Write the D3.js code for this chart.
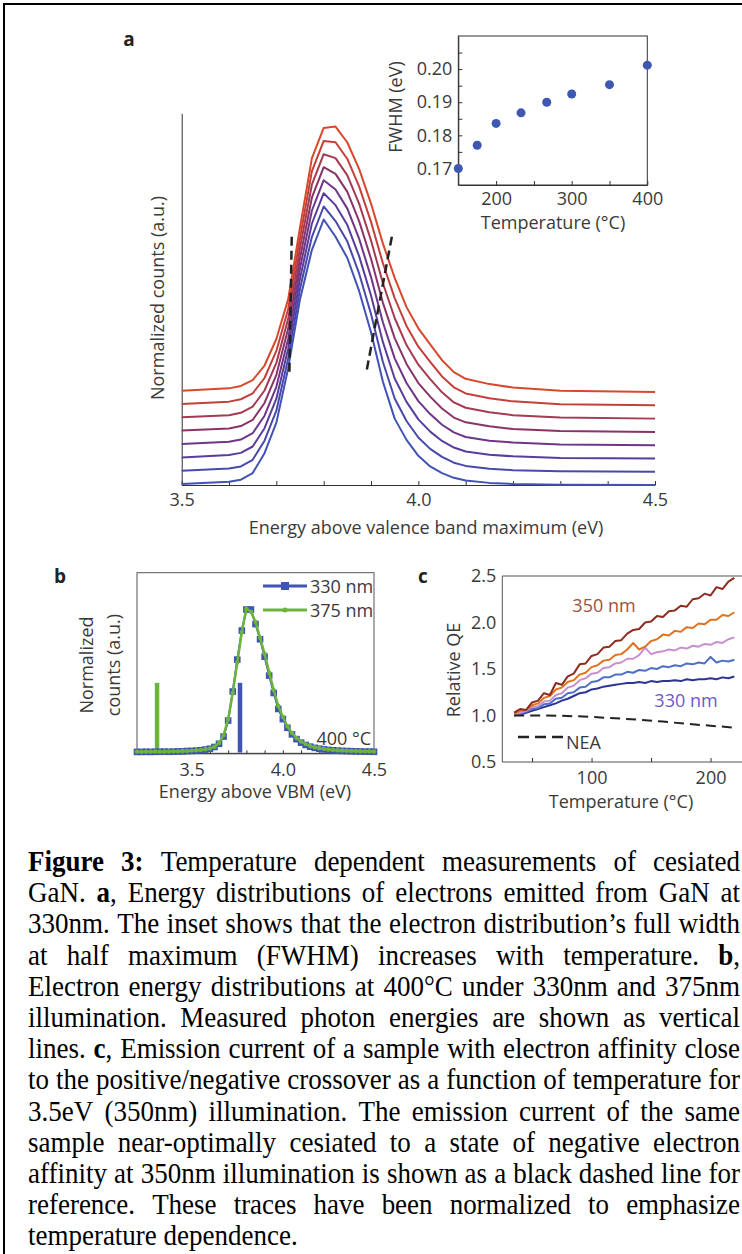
<!DOCTYPE html>
<html>
<head>
<meta charset="utf-8">
<script src="https://cdn.jsdelivr.net/npm/d3@7"></script>
<style>
  body { margin: 0; background: #fff; }
  svg text { font-family: "Open Sans", sans-serif; fill: #3a3a3a; }
  .axis path, .axis line { stroke: #333; }
  .axis text { font-family: "Open Sans", sans-serif; fill: #3a3a3a; }
  .cap text { font-family: "Liberation Serif", serif; fill: #000; }
</style>
</head>
<body>
<script>
  // ---- panel a: energy distributions at 330 nm, one curve per temperature
  const energyA = [3.5, 3.6, 3.625, 3.65, 3.675, 3.7, 3.725, 3.75, 3.775, 3.8, 3.825, 3.85, 3.875,
    3.9, 3.925, 3.95, 3.975, 4.0, 4.025, 4.05, 4.075, 4.1, 4.15, 4.2, 4.3, 4.5];
  const counts150 = [0.004, 0.012, 0.020, 0.045, 0.120, 0.235, 0.440, 0.700, 0.885, 1.000, 0.935, 0.855, 0.730,
    0.575, 0.390, 0.250, 0.170, 0.110, 0.070, 0.045, 0.027, 0.017, 0.008, 0.004, 0.001, 0];
  const counts175 = [0.004, 0.012, 0.020, 0.045, 0.117, 0.230, 0.427, 0.689, 0.884, 0.999, 0.944, 0.867, 0.746,
    0.594, 0.414, 0.276, 0.191, 0.129, 0.086, 0.056, 0.034, 0.022, 0.011, 0.006, 0.002, 0];
  const counts200 = [0.004, 0.013, 0.021, 0.045, 0.114, 0.225, 0.414, 0.677, 0.884, 0.999, 0.954, 0.879, 0.761,
    0.614, 0.439, 0.301, 0.213, 0.147, 0.101, 0.066, 0.041, 0.026, 0.014, 0.008, 0.002, 0];
  const counts233 = [0.004, 0.013, 0.021, 0.045, 0.111, 0.220, 0.401, 0.666, 0.883, 0.998, 0.963, 0.891, 0.777,
    0.633, 0.463, 0.327, 0.234, 0.166, 0.117, 0.077, 0.048, 0.031, 0.017, 0.010, 0.003, 0];
  const counts267 = [0.005, 0.013, 0.022, 0.045, 0.109, 0.215, 0.389, 0.654, 0.882, 0.997, 0.972, 0.904, 0.793,
    0.652, 0.487, 0.353, 0.256, 0.184, 0.133, 0.088, 0.054, 0.036, 0.021, 0.011, 0.003, 0];
  const counts300 = [0.005, 0.013, 0.022, 0.045, 0.106, 0.210, 0.376, 0.643, 0.881, 0.996, 0.981, 0.916, 0.809,
    0.671, 0.511, 0.379, 0.277, 0.203, 0.149, 0.099, 0.061, 0.041, 0.024, 0.013, 0.004, 0];
  const counts350 = [0.005, 0.014, 0.023, 0.045, 0.103, 0.205, 0.363, 0.631, 0.881, 0.996, 0.991, 0.928, 0.824,
    0.691, 0.536, 0.404, 0.299, 0.221, 0.164, 0.109, 0.068, 0.045, 0.027, 0.015, 0.004, 0];
  const counts400 = [0.005, 0.014, 0.023, 0.045, 0.100, 0.200, 0.350, 0.620, 0.880, 0.995, 1.000, 0.940, 0.840,
    0.710, 0.560, 0.430, 0.320, 0.240, 0.180, 0.120, 0.075, 0.050, 0.030, 0.017, 0.005, 0];
  const curvesA = [counts150, counts175, counts200, counts233, counts267, counts300, counts350, counts400];
  const curveStep = 0.05; // vertical offset between stacked traces
  const colorsA = ['#4152b6', '#4948ab', '#593d9d', '#6e3588', '#8a3368', '#a53a52', '#c3403a', '#d8482b'];
  const halfMaxLeft = [[3.7325, 0.935], [3.7275, 0.42]];
  const halfMaxRight = [[3.944, 0.935], [3.891, 0.433]];
  const ticksA = [3.5, 3.6, 3.7, 3.8, 3.9, 4.0, 4.1, 4.2, 4.3, 4.4, 4.5];
  const labelsA = [3.5, 4.0, 4.5];

  // inset: FWHM vs temperature
  const insetTemp = [150, 175, 200, 233, 267, 300, 350, 400];
  const insetFwhm = [0.170, 0.177, 0.1836, 0.1868, 0.190, 0.1925, 0.1953, 0.2012];
  const insetYTicks = [0.17, 0.175, 0.18, 0.185, 0.19, 0.195, 0.20, 0.205];
  const insetYLabels = [0.17, 0.18, 0.19, 0.20];
  const insetXTicks = [200, 250, 300, 350, 400];
  const insetXLabels = [200, 300, 400];

  // ---- panel b: 400 C distributions at two wavelengths
  const energyB = [3.2, 3.225, 3.25, 3.275, 3.3, 3.325, 3.35, 3.375, 3.4, 3.425, 3.45, 3.475, 3.5, 3.525,
    3.55, 3.575, 3.6, 3.625, 3.65, 3.675, 3.7, 3.725, 3.75, 3.775, 3.8, 3.825, 3.85, 3.875, 3.9, 3.925,
    3.95, 3.975, 4.0, 4.025, 4.05, 4.075, 4.1, 4.125, 4.15, 4.175, 4.2, 4.225, 4.25, 4.275, 4.3, 4.325,
    4.35, 4.375, 4.4, 4.425, 4.45, 4.475, 4.5];
  const counts330 = [0.004, 0.004, 0.005, 0.004, 0.005, 0.005, 0.006, 0.005, 0.006, 0.007, 0.008, 0.010, 0.011, 0.013,
    0.016, 0.020, 0.026, 0.038, 0.060, 0.110, 0.220, 0.420, 0.640, 0.840, 0.985, 0.985, 0.885, 0.780, 0.660, 0.530,
    0.410, 0.300, 0.230, 0.170, 0.125, 0.092, 0.068, 0.052, 0.040, 0.032, 0.026, 0.021, 0.018, 0.015, 0.013, 0.011,
    0.010, 0.009, 0.008, 0.007, 0.006, 0.006, 0.005];
  const counts375 = [0.006, 0.005, 0.006, 0.006, 0.007, 0.006, 0.007, 0.007, 0.008, 0.008, 0.010, 0.011, 0.013, 0.015,
    0.018, 0.022, 0.028, 0.040, 0.065, 0.120, 0.230, 0.410, 0.620, 0.830, 0.990, 0.970, 0.900, 0.790, 0.680, 0.550,
    0.430, 0.320, 0.245, 0.180, 0.135, 0.100, 0.075, 0.058, 0.045, 0.036, 0.030, 0.025, 0.021, 0.018, 0.016, 0.014,
    0.012, 0.011, 0.010, 0.009, 0.008, 0.008, 0.007];
  const photonEnergy = [3.31, 3.765];   // 375 nm, 330 nm
  const photonHeight = 0.48;
  const ticksB = [3.3, 3.4, 3.5, 3.6, 3.7, 3.8, 3.9, 4.0, 4.1, 4.2, 4.3, 4.4, 4.5];
  const labelsB = [3.5, 4.0, 4.5];

  // ---- panel c: relative QE vs temperature
  const tempC = [35, 40, 45, 50, 55, 60, 65, 70, 75, 80, 85, 90, 95, 100, 105, 110, 115, 120, 125, 130,
    135, 140, 145, 150, 155, 160, 165, 170, 175, 180, 185, 190, 195, 200, 205, 210, 215, 220];
  const qe350 = [1.03, 1.07, 1.06, 1.14, 1.16, 1.24, 1.22, 1.35, 1.33, 1.42, 1.45, 1.55, 1.56, 1.64, 1.66, 1.73,
    1.74, 1.80, 1.81, 1.88, 1.92, 1.93, 2.00, 2.01, 2.07, 2.06, 2.12, 2.13, 2.18, 2.17, 2.25, 2.26, 2.31, 2.29,
    2.38, 2.36, 2.44, 2.48];
  const qe345 = [1.02, 1.05, 1.06, 1.11, 1.13, 1.19, 1.21, 1.28, 1.30, 1.36, 1.38, 1.44, 1.46, 1.52, 1.54, 1.59,
    1.60, 1.65, 1.66, 1.71, 1.78, 1.71, 1.74, 1.80, 1.82, 1.87, 1.86, 1.91, 1.90, 1.95, 1.94, 1.99, 1.98, 2.03,
    2.03, 2.08, 2.07, 2.11];
  const qe340 = [1.01, 1.03, 1.05, 1.09, 1.10, 1.15, 1.16, 1.22, 1.24, 1.30, 1.32, 1.38, 1.40, 1.45, 1.46, 1.51,
    1.52, 1.56, 1.57, 1.61, 1.61, 1.65, 1.73, 1.66, 1.68, 1.69, 1.71, 1.70, 1.73, 1.72, 1.75, 1.74, 1.77, 1.76,
    1.79, 1.78, 1.82, 1.84];
  const qe335 = [1.01, 1.02, 1.04, 1.07, 1.08, 1.12, 1.13, 1.18, 1.19, 1.24, 1.25, 1.30, 1.31, 1.36, 1.37, 1.41,
    1.41, 1.44, 1.44, 1.47, 1.46, 1.49, 1.48, 1.51, 1.50, 1.53, 1.52, 1.54, 1.53, 1.56, 1.55, 1.57, 1.56, 1.63,
    1.57, 1.59, 1.58, 1.60];
  const qe330 = [1.00, 1.01, 1.03, 1.05, 1.07, 1.09, 1.11, 1.13, 1.16, 1.18, 1.21, 1.24, 1.25, 1.28, 1.29, 1.31,
    1.32, 1.33, 1.34, 1.35, 1.35, 1.36, 1.35, 1.37, 1.36, 1.37, 1.37, 1.38, 1.37, 1.39, 1.38, 1.39, 1.39, 1.40,
    1.39, 1.41, 1.40, 1.42];
  const seriesC = [qe330, qe335, qe340, qe345, qe350];
  const colorsC = ['#2c3593', '#4e6fc6', '#c990d0', '#e0731f', '#8c2d1f'];
  const neaTemp = [35, 60, 80, 100, 120, 140, 160, 180, 200, 220];
  const neaQE = [1.0, 1.0, 0.995, 0.985, 0.97, 0.955, 0.935, 0.91, 0.89, 0.87];
  const ticksCx = [50, 100, 150, 200];
  const labelsCx = [100, 200];
  const ticksCy = [0.5, 1.0, 1.5, 2.0, 2.5];

  // ---- caption, one entry per printed line (*...* = bold)
  const captionLines = [
    '*Figure* *3:* Temperature dependent measurements of cesiated',
    'GaN. *a*, Energy distributions of electrons emitted from GaN at',
    '330nm. The inset shows that the electron distribution\u2019s full width',
    'at half maximum (FWHM) increases with temperature. *b*,',
    'Electron energy distributions at 400\u00b0C under 330nm and 375nm',
    'illumination. Measured photon energies are shown as vertical',
    'lines. *c*, Emission current of a sample with electron affinity close',
    'to the positive/negative crossover as a function of temperature for',
    '3.5eV (350nm) illumination. The emission current of the same',
    'sample near-optimally cesiated to a state of negative electron',
    'affinity at 350nm illumination is shown as a black dashed line for',
    'reference. These traces have been normalized to emphasize',
    'temperature dependence.'
  ];

  const W = 742, H = 1254;
  const svg = d3.select('body').append('svg')
    .attr('width', W)
    .attr('height', H);

  svg.append('rect').attr('width', W).attr('height', H).attr('fill', '#fff');

  // outer frame (left + top)
  svg.append('path')
    .attr('d', 'M4,1254 V4 H742')
    .attr('fill', 'none')
    .attr('stroke', '#000')
    .attr('stroke-width', 2);

  const fmt1 = d3.format('.1f');
  const isIn = (list) => (d) => list.some(v => Math.abs(v - d) < 1e-9);
  const FS = '18px';

  // ================= panel a =================
  const xA = d3.scaleLinear().domain([3.5, 4.5]).range([181.7, 655]);
  const yA = d3.scaleLinear().domain([0, 1.4]).range([485, 113.3]);
  const gA = svg.append('g');

  gA.append('text').attr('x', 129).attr('y', 46)
    .attr('text-anchor', 'middle')
    .style('font-weight', 'bold').style('font-size', '19px').style('fill', '#222')
    .text('a');

  gA.append('g').attr('class', 'axis')
    .attr('transform', 'translate(0,485)')
    .call(d3.axisBottom(xA).tickValues(ticksA).tickSizeInner(-4).tickSizeOuter(0).tickPadding(8)
      .tickFormat(d => isIn(labelsA)(d) ? fmt1(d) : ''))
    .call(g => g.selectAll('text').style('font-size', FS));

  gA.append('g').attr('class', 'axis')
    .attr('transform', 'translate(181.7,0)')
    .call(d3.axisLeft(yA).tickValues([]).tickSizeOuter(0));

  const lineA = d3.line()
    .x((d, i) => xA(energyA[i]))
    .y(d => yA(d.v + d.off));

  gA.append('g').selectAll('path')
    .data(curvesA)
    .enter()
    .append('path')
    .attr('d', (c, k) => lineA(c.map(v => ({ v: v, off: k * curveStep }))))
    .attr('fill', 'none')
    .attr('stroke', (d, k) => colorsA[k])
    .attr('stroke-width', 2)
    .attr('stroke-linejoin', 'round');

  const seg = d3.line().x(d => xA(d[0])).y(d => yA(d[1]));
  gA.selectAll('.hm')
    .data([halfMaxLeft, halfMaxRight])
    .enter()
    .append('path')
    .attr('d', seg)
    .attr('stroke', '#222')
    .attr('stroke-width', 2.5)
    .attr('stroke-dasharray', '9,5')
    .attr('fill', 'none');

  gA.append('text')
    .attr('transform', 'translate(157,298) rotate(-90)')
    .attr('text-anchor', 'middle').attr('dominant-baseline', 'central')
    .style('font-size', FS)
    .text('Normalized counts (a.u.)');

  gA.append('text')
    .attr('x', 426).attr('y', 534)
    .attr('text-anchor', 'middle')
    .style('font-size', FS)
    .text('Energy above valence band maximum (eV)');

  // inset
  const xI = d3.scaleLinear().domain([150, 400]).range([458.3, 647.3]);
  const yI = d3.scaleLinear().domain([0.165, 0.21]).range([185, 36]);
  const gI = svg.append('g');

  gI.append('rect')
    .attr('x', 458.3).attr('y', 36).attr('width', 189).attr('height', 149)
    .attr('fill', '#fff').attr('stroke', '#333').attr('stroke-width', 1);

  gI.append('g').attr('class', 'axis')
    .attr('transform', 'translate(458.3,0)')
    .call(d3.axisLeft(yI).tickValues(insetYTicks).tickSizeInner(-4).tickSizeOuter(0).tickPadding(6)
      .tickFormat(d => isIn(insetYLabels)(d) ? d3.format('.2f')(d) : ''))
    .call(g => g.selectAll('text').style('font-size', FS));

  gI.append('g').attr('class', 'axis')
    .attr('transform', 'translate(0,185)')
    .call(d3.axisBottom(xI).tickValues(insetXTicks).tickSizeInner(-4).tickSizeOuter(0).tickPadding(7)
      .tickFormat(d => isIn(insetXLabels)(d) ? d : ''))
    .call(g => g.selectAll('text').style('font-size', FS));

  gI.selectAll('circle')
    .data(insetTemp)
    .enter()
    .append('circle')
    .attr('cx', d => xI(d))
    .attr('cy', (d, i) => yI(insetFwhm[i]))
    .attr('r', 4.5)
    .attr('fill', '#3e57b3');

  gI.append('text')
    .attr('transform', 'translate(395,107) rotate(-90)')
    .attr('text-anchor', 'middle').attr('dominant-baseline', 'central')
    .style('font-size', FS)
    .text('FWHM (eV)');

  gI.append('text')
    .attr('x', 553).attr('y', 229)
    .attr('text-anchor', 'middle')
    .style('font-size', FS)
    .text('Temperature (\u00b0C)');

  // ================= panel b =================
  const xB = d3.scaleLinear().domain([3.2, 4.5]).range([137, 374]);
  const yB = d3.scaleLinear().domain([0, 1.24]).range([752.5, 572.5]);
  const gB = svg.append('g');

  gB.append('text').attr('x', 60).attr('y', 583)
    .attr('text-anchor', 'middle')
    .style('font-weight', 'bold').style('font-size', '19px').style('fill', '#222')
    .text('b');

  gB.append('rect')
    .attr('x', 137).attr('y', 572.7).attr('width', 237).attr('height', 180.6)
    .attr('fill', 'none').attr('stroke', '#555').attr('stroke-width', 1);

  gB.append('g').attr('class', 'axis')
    .attr('transform', 'translate(0,753.3)')
    .call(d3.axisBottom(xB).tickValues(ticksB).tickSizeInner(-3).tickSizeOuter(0).tickPadding(10)
      .tickFormat(d => isIn(labelsB)(d) ? fmt1(d) : ''))
    .call(g => g.selectAll('text').style('font-size', FS));

  gB.selectAll('.photon')
    .data(photonEnergy)
    .enter()
    .append('line')
    .attr('x1', d => xB(d)).attr('x2', d => xB(d))
    .attr('y1', yB(0)).attr('y2', yB(photonHeight))
    .attr('stroke', (d, i) => i === 0 ? '#6cb33f' : '#3f55b0')
    .attr('stroke-width', 4.5);

  const lineB = d3.line().x((d, i) => xB(energyB[i])).y(d => yB(d));

  gB.append('path')
    .attr('d', lineB(counts330))
    .attr('fill', 'none').attr('stroke', '#3f55b0').attr('stroke-width', 2);
  gB.selectAll('.sq')
    .data(counts330)
    .enter()
    .append('rect')
    .attr('x', (d, i) => xB(energyB[i]) - 3.3)
    .attr('y', d => yB(d) - 3.3)
    .attr('width', 6.6).attr('height', 6.6)
    .attr('fill', '#3f55b0');

  gB.append('path')
    .attr('d', lineB(counts375))
    .attr('fill', 'none').attr('stroke', '#6cb33f').attr('stroke-width', 2.5);
  gB.selectAll('.dot')
    .data(counts375)
    .enter()
    .append('circle')
    .attr('cx', (d, i) => xB(energyB[i]))
    .attr('cy', d => yB(d))
    .attr('r', 2.2)
    .attr('fill', '#6cb33f');

  // legend b
  const legB = [
    { label: '330 nm', color: '#3f55b0', y: 586, mark: 'square' },
    { label: '375 nm', color: '#6cb33f', y: 610, mark: 'dot' }
  ];
  legB.forEach(l => {
    gB.append('line').attr('x1', 263).attr('x2', 307).attr('y1', l.y).attr('y2', l.y)
      .attr('stroke', l.color).attr('stroke-width', 3);
    if (l.mark === 'square') {
      gB.append('rect').attr('x', 281).attr('y', l.y - 4).attr('width', 8).attr('height', 8).attr('fill', l.color);
    } else {
      gB.append('circle').attr('cx', 285).attr('cy', l.y).attr('r', 2.5).attr('fill', l.color);
    }
    gB.append('text').attr('x', 310).attr('y', l.y).attr('dominant-baseline', 'central')
      .style('font-size', FS).text(l.label);
  });

  gB.append('text').attr('x', 371).attr('y', 738)
    .attr('text-anchor', 'end').attr('dominant-baseline', 'central')
    .style('font-size', FS).text('400 \u00b0C');

  gB.append('text')
    .attr('transform', 'translate(86,665) rotate(-90)')
    .attr('text-anchor', 'middle').attr('dominant-baseline', 'central')
    .style('font-size', FS).text('Normalized');
  gB.append('text')
    .attr('transform', 'translate(113,665) rotate(-90)')
    .attr('text-anchor', 'middle').attr('dominant-baseline', 'central')
    .style('font-size', FS).text('counts (a.u.)');

  gB.append('text')
    .attr('x', 255).attr('y', 798)
    .attr('text-anchor', 'middle')
    .style('font-size', FS)
    .text('Energy above VBM (eV)');

  // ================= panel c =================
  const xC = d3.scaleLinear().domain([25, 225]).range([502.3, 740.3]);
  const yC = d3.scaleLinear().domain([0.5, 2.5]).range([762, 576]);
  const gC = svg.append('g');

  gC.append('text').attr('x', 423).attr('y', 583)
    .attr('text-anchor', 'middle')
    .style('font-weight', 'bold').style('font-size', '19px').style('fill', '#222')
    .text('c');

  gC.append('path')
    .attr('d', 'M742,576 H502.3 V762 H742')
    .attr('fill', 'none').attr('stroke', '#555').attr('stroke-width', 1);

  gC.append('g').attr('class', 'axis')
    .attr('transform', 'translate(0,762)')
    .call(d3.axisBottom(xC).tickValues(ticksCx).tickSizeInner(-4).tickSizeOuter(0).tickPadding(9)
      .tickFormat(d => isIn(labelsCx)(d) ? d : ''))
    .call(g => g.selectAll('text').style('font-size', FS))
    .call(g => g.select('.domain').remove());

  gC.append('g').attr('class', 'axis')
    .attr('transform', 'translate(502.3,0)')
    .call(d3.axisLeft(yC).tickValues(ticksCy).tickSizeInner(0).tickSizeOuter(0).tickPadding(6)
      .tickFormat(fmt1))
    .call(g => g.selectAll('text').style('font-size', FS))
    .call(g => g.select('.domain').remove());

  const lineC = d3.line().x((d, i) => xC(tempC[i])).y(d => yC(d));
  gC.append('g').selectAll('path')
    .data(seriesC)
    .enter()
    .append('path')
    .attr('d', lineC)
    .attr('fill', 'none')
    .attr('stroke', (d, i) => colorsC[i])
    .attr('stroke-width', 2)
    .attr('stroke-linejoin', 'round');

  gC.append('path')
    .attr('d', d3.line().x((d, i) => xC(neaTemp[i])).y(d => yC(d))(neaQE))
    .attr('fill', 'none').attr('stroke', '#222').attr('stroke-width', 2)
    .attr('stroke-dasharray', '10,6');

  gC.append('line').attr('x1', 518).attr('x2', 563).attr('y1', 737).attr('y2', 737)
    .attr('stroke', '#222').attr('stroke-width', 2.5).attr('stroke-dasharray', '11,6');
  gC.append('text').attr('x', 566).attr('y', 742).attr('dominant-baseline', 'central')
    .style('font-size', FS).text('NEA');

  gC.append('text').attr('x', 604).attr('y', 605).attr('text-anchor', 'middle')
    .attr('dominant-baseline', 'central')
    .style('font-size', FS).style('fill', '#a0503e').text('350 nm');
  gC.append('text').attr('x', 686).attr('y', 700).attr('text-anchor', 'middle')
    .attr('dominant-baseline', 'central')
    .style('font-size', FS).style('fill', '#6a5cc8').text('330 nm');

  gC.append('text')
    .attr('transform', 'translate(453,670) rotate(-90)')
    .attr('text-anchor', 'middle').attr('dominant-baseline', 'central')
    .style('font-size', FS).text('Relative QE');

  gC.append('text')
    .attr('x', 621).attr('y', 808)
    .attr('text-anchor', 'middle')
    .style('font-size', FS)
    .text('Temperature (\u00b0C)');

  // ================= caption =================
  const capLeft = 28, capRight = 740, capTop = 871, capStep = 31.2;
  const capFont = 30, capScale = 0.9;
  const capW = (capRight - capLeft) / capScale;
  const gCap = svg.append('g').attr('class', 'cap')
    .attr('transform', `translate(${capLeft},0) scale(${capScale},1)`);

  function addWord(parent, word, x, y) {
    const t = parent.append('text').attr('x', x).attr('y', y).style('font-size', capFont + 'px');
    word.split('*').forEach((part, j) => {
      if (part) t.append('tspan').style('font-weight', j % 2 ? 'bold' : 'normal').text(part);
    });
    return t;
  }

  captionLines.forEach((line, li) => {
    const y = capTop + li * capStep;
    const words = line.split(' ');
    const row = gCap.append('g');
    const nodes = words.map(w => addWord(row, w, 0, y));
    const widths = nodes.map(n => n.node().getComputedTextLength());
    const total = d3.sum(widths);
    const last = li === captionLines.length - 1;
    let gap = last ? capFont * 0.25 : (capW - total) / (words.length - 1);
    let squeeze = 1;
    const minGap = capFont * 0.18;
    if (!last && gap < minGap) {
      // too long for the column: tighten the glyphs of this row a little
      squeeze = (capW - minGap * (words.length - 1)) / total;
      gap = minGap;
      row.attr('transform', `scale(${squeeze},1)`);
      gap = gap / squeeze;
    }
    let x = 0;
    nodes.forEach((n, i) => {
      n.attr('x', x);
      x += widths[i] + gap;
    });
  });
</script>
</body>
</html>
